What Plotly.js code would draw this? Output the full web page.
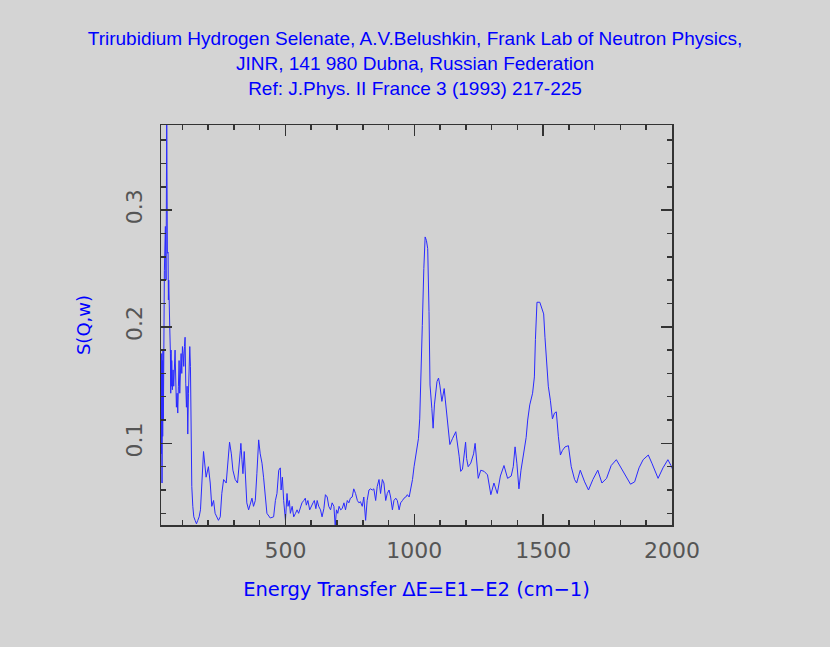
<!DOCTYPE html>
<html>
<head>
<meta charset="utf-8">
<script src="https://cdn.plot.ly/plotly-3.0.1.min.js"></script>
<style>
  html, body { margin: 0; padding: 0; background: #d4d4d4; }
  #chart { width: 830px; height: 647px; }
</style>
</head>
<body>
<div id="chart"></div>
<script>
// Energy transfer (cm-1) and S(Q,w)
const energy = [
  17.1, 18.4, 19.7, 21.0, 22.3, 23.6, 24.9, 26.2, 30.1, 34.0,
  36.6, 39.2, 41.8, 43.1, 44.4, 45.7, 47.0, 48.3, 49.6, 50.9,
  53.5, 54.8, 56.0, 57.4, 58.6, 61.2, 63.8, 66.4, 71.6, 74.2,
  76.8, 79.4, 82.0, 84.6, 87.2, 89.8, 92.4, 95.0, 97.6, 100.2,
  102.8, 105.3, 108.0, 110.5, 113.1, 115.7, 118.3, 120.9, 123.5, 126.1,
  128.7, 131.3, 133.9, 136.5, 140.4, 144.3, 149.4, 154.6, 159.8, 165.0,
  170.2, 175.4, 179.3, 182, 192, 201, 208, 214, 221, 227,
  240, 247, 253, 260, 270, 277, 283, 290, 296, 305,
  314, 325, 327, 331, 335, 340, 345, 350, 357, 363,
  370, 376, 383, 389, 396, 402, 409, 415, 422, 428,
  441, 454, 461, 467, 474, 480, 483, 488, 493, 500,
  506, 510, 515, 519, 526, 532, 539, 545, 551, 558,
  564, 571, 577, 581, 587, 594, 601, 607, 612, 618,
  623, 629, 636, 642, 649, 655, 662, 668, 675, 681,
  688, 693, 698, 703, 708, 714, 720, 727, 733, 740,
  746, 752, 759, 765, 772, 779, 785, 791, 798, 804,
  811, 817, 824, 830, 837, 843, 850, 856, 863, 869,
  876, 882, 889, 895, 902, 908, 915, 921, 928, 934,
  941, 947, 954, 960, 967, 973, 980, 986, 993, 999,
  1005, 1012, 1016, 1021, 1026, 1031, 1037, 1042, 1047, 1052,
  1057, 1061, 1068, 1073, 1078, 1083, 1088, 1094, 1099, 1107,
  1112, 1116, 1120, 1125, 1130, 1138, 1148, 1161, 1174, 1180,
  1187, 1193, 1199, 1203, 1209, 1219, 1230, 1236, 1248, 1258,
  1271, 1284, 1297, 1309, 1322, 1334, 1348, 1362, 1376, 1384,
  1391, 1398, 1406, 1414, 1422, 1434, 1440, 1448, 1459, 1466,
  1470, 1476, 1487, 1494, 1502, 1507, 1513, 1520, 1528, 1536,
  1544, 1551, 1559, 1567, 1575, 1585, 1598, 1609, 1622, 1630,
  1644, 1661, 1676, 1693, 1712, 1728, 1746, 1764, 1784, 1803,
  1822, 1839, 1855, 1872, 1888, 1908, 1922, 1937, 1946, 1965,
  1984, 1996, 2004
];
const sqw = [
  0.160, 0.091, 0.177, 0.066, 0.171, 0.106, 0.180, 0.120, 0.248, 0.286,
  0.240, 0.380, 0.263, 0.243, 0.264, 0.223, 0.240, 0.214, 0.228, 0.200,
  0.177, 0.143, 0.180, 0.149, 0.171, 0.146, 0.163, 0.149, 0.180, 0.140,
  0.131, 0.143, 0.126, 0.149, 0.171, 0.143, 0.160, 0.177, 0.160, 0.183,
  0.177, 0.166, 0.183, 0.191, 0.151, 0.131, 0.149, 0.108, 0.143, 0.177,
  0.183, 0.166, 0.086, 0.063, 0.046, 0.037, 0.034, 0.031, 0.034, 0.037,
  0.043, 0.063, 0.080, 0.093, 0.071, 0.080, 0.066, 0.046, 0.051, 0.040,
  0.034, 0.037, 0.057, 0.069, 0.066, 0.086, 0.101, 0.091, 0.077, 0.069,
  0.066, 0.094, 0.100, 0.086, 0.074, 0.093, 0.074, 0.049, 0.043, 0.049,
  0.053, 0.046, 0.051, 0.074, 0.103, 0.091, 0.083, 0.071, 0.051, 0.040,
  0.036, 0.037, 0.051, 0.057, 0.077, 0.079, 0.060, 0.071, 0.051, 0.034,
  0.057, 0.046, 0.051, 0.040, 0.046, 0.037, 0.040, 0.043, 0.040, 0.046,
  0.049, 0.051, 0.053, 0.047, 0.051, 0.043, 0.047, 0.049, 0.051, 0.044,
  0.051, 0.046, 0.043, 0.037, 0.044, 0.056, 0.054, 0.046, 0.043, 0.049,
  0.046, 0.029, 0.043, 0.040, 0.046, 0.043, 0.044, 0.049, 0.043, 0.051,
  0.049, 0.053, 0.054, 0.061, 0.057, 0.051, 0.049, 0.050, 0.046, 0.054,
  0.034, 0.051, 0.060, 0.061, 0.060, 0.061, 0.051, 0.063, 0.069, 0.057,
  0.069, 0.066, 0.051, 0.057, 0.060, 0.054, 0.043, 0.051, 0.053, 0.051,
  0.043, 0.049, 0.051, 0.053, 0.054, 0.056, 0.054, 0.060, 0.069, 0.080,
  0.089, 0.097, 0.104, 0.121, 0.173, 0.201, 0.250, 0.277, 0.274, 0.267,
  0.213, 0.150, 0.130, 0.113, 0.133, 0.147, 0.153, 0.156, 0.150, 0.136,
  0.144, 0.147, 0.138, 0.127, 0.113, 0.099, 0.104, 0.110, 0.089, 0.076,
  0.078, 0.093, 0.101, 0.087, 0.080, 0.083, 0.091, 0.100, 0.070, 0.077,
  0.076, 0.073, 0.056, 0.066, 0.057, 0.072, 0.081, 0.070, 0.072, 0.080,
  0.097, 0.083, 0.061, 0.077, 0.088, 0.105, 0.120, 0.133, 0.143, 0.157,
  0.189, 0.221, 0.221, 0.217, 0.211, 0.191, 0.169, 0.149, 0.137, 0.121,
  0.126, 0.127, 0.106, 0.090, 0.094, 0.097, 0.098, 0.080, 0.069, 0.066,
  0.077, 0.067, 0.060, 0.069, 0.077, 0.066, 0.070, 0.081, 0.086, 0.079,
  0.071, 0.065, 0.067, 0.079, 0.086, 0.090, 0.083, 0.075, 0.070, 0.079,
  0.086, 0.081, 0.077
];
const xTicks = [500, 1000, 1500, 2000];
const yTicks = [0.1, 0.2, 0.3];
const yTickText = ["0.1", "0.2", "0.3"];

const titleLines = [
  "Trirubidium Hydrogen Selenate, A.V.Belushkin, Frank Lab of Neutron Physics,",
  "JINR, 141 980 Dubna, Russian Federation",
  "Ref: J.Phys. II France 3 (1993) 217-225"
];

const frame = "#333333";
const tickFont = { family: "DejaVu Sans", size: 22, color: "#555555" };

let data = [{
  x: energy,
  y: sqw,
  type: "scatter",
  mode: "lines",
  line: { color: "#2a2aff", width: 1 },
  hoverinfo: "skip"
}];

let layout = {
  width: 830,
  height: 647,
  paper_bgcolor: "#d4d4d4",
  plot_bgcolor: "#d2d2d2",
  margin: { t: 125, b: 122, l: 161, r: 158 },
  showlegend: false,
  title: {
    text: titleLines.join("<br>"),
    font: { family: "Liberation Sans", size: 19, color: "#0000ff" },
    x: 0.5,
    xanchor: "center",
    y: 0.93,
    yanchor: "top"
  },
  xaxis: {
    range: [17, 2000],
    tickmode: "array",
    tickvals: xTicks,
    ticks: "inside",
    ticklen: 11,
    tickwidth: 1.5,
    tickcolor: frame,
    showline: true,
    linecolor: frame,
    linewidth: 1.5,
    mirror: "allticks",
    showgrid: false,
    zeroline: false,
    tickfont: tickFont,
    ticklabelstandoff: 5,
    minor: { dtick: 100, tick0: 0, ticks: "inside", ticklen: 5, tickcolor: frame, showgrid: false },
    title: {
      text: "Energy Transfer \u0394E=E1\u2212E2 (cm\u22121)",
      font: { family: "DejaVu Sans", size: 19.5, color: "#0000ff" },
      standoff: 20
    }
  },
  yaxis: {
    range: [0.03, 0.373],
    tickmode: "array",
    tickvals: yTicks,
    ticktext: yTickText,
    tickangle: -90,
    ticks: "inside",
    ticklen: 11,
    tickwidth: 1.5,
    tickcolor: frame,
    showline: true,
    linecolor: frame,
    linewidth: 1.5,
    mirror: "allticks",
    showgrid: false,
    zeroline: false,
    tickfont: tickFont,
    ticklabelstandoff: 9,
    minor: { dtick: 0.02, tick0: 0, ticks: "inside", ticklen: 5, tickcolor: frame, showgrid: false },
    title: {
      text: "S(Q,w)",
      font: { family: "DejaVu Sans", size: 18, color: "#0000ff" },
      standoff: 26
    }
  }
};

Plotly.newPlot("chart", data, layout, { displayModeBar: false, staticPlot: true });
</script>
</body>
</html>
